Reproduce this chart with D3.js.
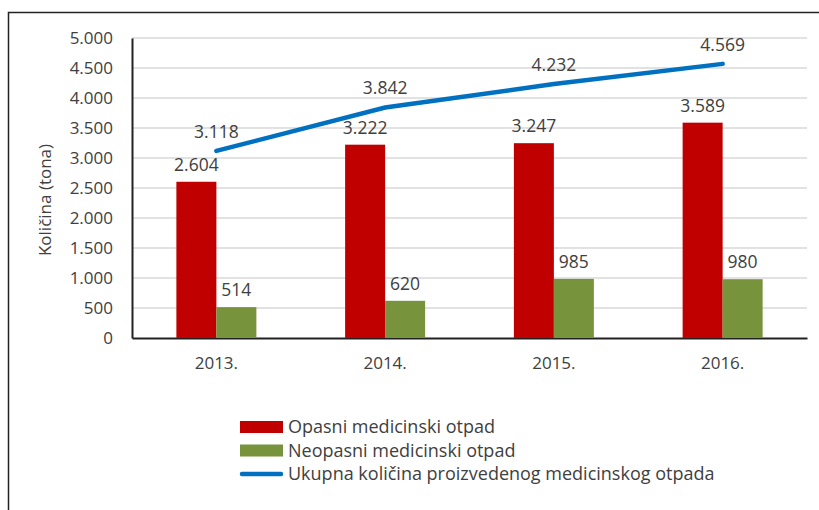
<!DOCTYPE html>
<html>
<head>
<meta charset="utf-8">
<script src="https://cdn.jsdelivr.net/npm/d3@7"></script>
<style>
  body { margin: 0; background: #fff; }
  text { font-family: "Open Sans", "Noto Sans", sans-serif; fill: #404040; }
</style>
</head>
<body>
<div id="chart"></div>
<script>
// data
const years = ["2013.", "2014.", "2015.", "2016."];
const opasni = [2604, 3222, 3247, 3589];
const neopasni = [514, 620, 985, 980];
const ukupno = [3118, 3842, 4232, 4569];
const yTicks = [0, 500, 1000, 1500, 2000, 2500, 3000, 3500, 4000, 4500, 5000];
const legendLabels = [
  "Opasni medicinski otpad",
  "Neopasni medicinski otpad",
  "Ukupna količina proizvedenog medicinskog otpada"
];

const W = 819, H = 510;
const margin = { top: 38, right: 12, bottom: 172, left: 132 };
const width = W - margin.left - margin.right,
  height = H - margin.top - margin.bottom;

const red = "#C00000", green = "#77933C", blue = "#0070C0";

const fmt = v => d3.format(",")(v).replace(/,/g, ".");

const svg = d3.select("#chart").append("svg")
  .attr("width", W).attr("height", H);

// outer frame (top + left edge visible)
svg.append("path")
  .attr("d", `M8.5,${H + 2} L8.5,12.5 L${W + 2},12.5`)
  .attr("fill", "none").attr("stroke", "#222").attr("stroke-width", 1.5);

const g = svg.append("g")
  .attr("transform", "translate(" + margin.left + "," + margin.top + ")");

const x = d3.scaleBand().domain(years).range([0, width]);
const y = d3.scaleLinear().domain([0, 5000]).range([height, 0]);
const barW = 40;

// gridlines
g.selectAll("line.grid").data(yTicks.slice(1)).enter()
  .append("line").attr("class", "grid")
  .attr("x1", 0).attr("x2", width)
  .attr("y1", d => y(d)).attr("y2", d => y(d))
  .attr("stroke", "#d9d9d9").attr("stroke-width", 1.5);

// y axis
const yAxis = g.append("g")
  .call(d3.axisLeft(y).tickValues(yTicks).tickFormat(fmt).tickSize(0).tickPadding(19));
yAxis.select(".domain").attr("stroke", "#222").attr("stroke-width", 2);
yAxis.selectAll("text").style("font-size", "17px").attr("fill", "#404040");

// x axis
const xAxis = g.append("g")
  .attr("transform", "translate(0," + height + ")")
  .call(d3.axisBottom(x).tickSize(0).tickPadding(19));
xAxis.select(".domain").attr("stroke", "#222").attr("stroke-width", 2);
xAxis.selectAll("text").style("font-size", "17px").attr("fill", "#404040");

// bars
const cx = d => x(d) + x.bandwidth() / 2;

g.selectAll("rect.op").data(opasni).enter()
  .append("rect").attr("class", "op")
  .attr("x", (d, i) => cx(years[i]) - barW)
  .attr("y", d => y(d))
  .attr("width", barW).attr("height", d => height - y(d))
  .attr("fill", red);

g.selectAll("rect.neo").data(neopasni).enter()
  .append("rect").attr("class", "neo")
  .attr("x", (d, i) => cx(years[i]))
  .attr("y", d => y(d))
  .attr("width", barW).attr("height", d => height - y(d))
  .attr("fill", green);

// line
const line = d3.line()
  .x((d, i) => cx(years[i]))
  .y(d => y(d));

g.append("path").datum(ukupno)
  .attr("d", line)
  .attr("fill", "none").attr("stroke", blue)
  .attr("stroke-width", 4.5).attr("stroke-linecap", "round");

// labels
const labelStyle = sel => sel.attr("text-anchor", "middle").style("font-size", "17.5px");

g.selectAll("text.lop").data(opasni).enter()
  .append("text").attr("class", "lop")
  .attr("x", (d, i) => cx(years[i]) - barW / 2)
  .attr("y", d => y(d) - 11)
  .text(fmt).call(labelStyle);

g.selectAll("text.lneo").data(neopasni).enter()
  .append("text").attr("class", "lneo")
  .attr("x", (d, i) => cx(years[i]) + barW / 2)
  .attr("y", d => y(d) - 11)
  .text(fmt).call(labelStyle);

g.selectAll("text.luk").data(ukupno).enter()
  .append("text").attr("class", "luk")
  .attr("x", (d, i) => cx(years[i]))
  .attr("y", d => y(d) - 13)
  .text(fmt).call(labelStyle);

// y title
svg.append("text")
  .attr("transform", "translate(51,200) rotate(-90)")
  .attr("text-anchor", "middle")
  .style("font-size", "17px")
  .text("Količina (tona)");

// legend
const legend = svg.append("g").attr("transform", "translate(240,427)");
const rows = legend.selectAll("g").data(legendLabels).enter()
  .append("g").attr("transform", (d, i) => "translate(0," + i * 23.5 + ")");

rows.each(function(d, i) {
  const r = d3.select(this);
  if (i < 2) {
    r.append("rect").attr("x", 0).attr("y", -6).attr("width", 43).attr("height", 12)
      .attr("fill", i === 0 ? red : green);
  } else {
    r.append("line").attr("x1", 2).attr("x2", 41).attr("y1", 0).attr("y2", 0)
      .attr("stroke", blue).attr("stroke-width", 4.5).attr("stroke-linecap", "round");
  }
  r.append("text").attr("x", 48).attr("dy", "0.35em")
    .style("font-size", "18px").text(d);
});
</script>
</body>
</html>
